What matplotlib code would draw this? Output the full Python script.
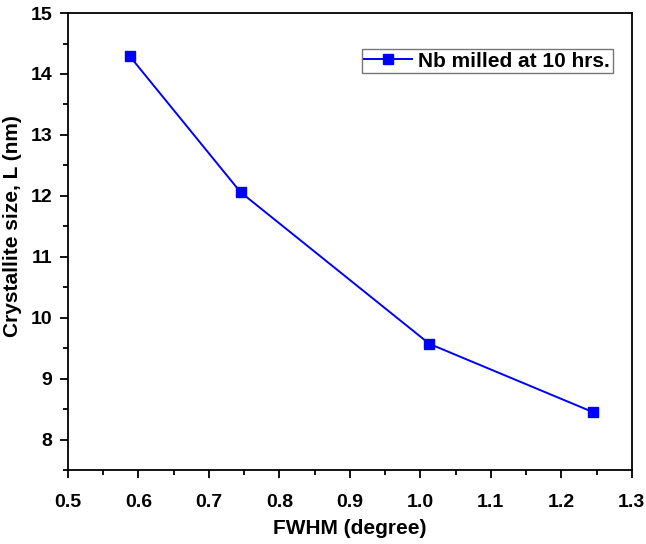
import matplotlib
matplotlib.use("Agg")
import matplotlib.pyplot as plt
from matplotlib.ticker import MultipleLocator, FormatStrFormatter

plt.rcParams['font.family'] = ['Liberation Sans', 'DejaVu Sans']
plt.rcParams['font.weight'] = 'bold'

fwhm = [0.588, 0.745, 1.013, 1.245]
size_nm = [14.29, 12.06, 9.57, 8.45]
label = "Nb milled at 10 hrs."

fig = plt.figure(figsize=(6.46, 5.44), dpi=100)
ax = fig.add_axes([0.105, 0.136, 0.873, 0.840])

ax.plot(fwhm, size_nm, color="#0000ff", lw=1.4, marker="s", ms=7.5,
        label=label)

ax.set_xlim(0.5, 1.3)
ax.set_ylim(7.5, 15)
ax.xaxis.set_major_locator(MultipleLocator(0.1))
ax.xaxis.set_minor_locator(MultipleLocator(0.05))
ax.yaxis.set_major_locator(MultipleLocator(1))
ax.yaxis.set_minor_locator(MultipleLocator(0.5))
ax.xaxis.set_major_formatter(FormatStrFormatter('%.1f'))

ax.tick_params(which="major", direction="out", length=6, width=1.3,
               labelsize=14, pad=5)
ax.tick_params(axis="x", which="major", pad=11)
ax.tick_params(which="minor", direction="out", length=3.5, width=1.3)
for s in ax.spines.values():
    s.set_linewidth(1.3)

ax.set_xlabel("FWHM (degree)", fontsize=15, fontweight="bold", labelpad=6)
ax.set_ylabel("Crystallite size, L (nm)", fontsize=15, fontweight="bold")
ax.yaxis.set_label_coords(-0.082, 0.534)

leg = ax.legend(loc="upper right", bbox_to_anchor=(0.966, 0.921),
                fontsize=15, frameon=True, fancybox=False,
                handlelength=2.3, handletextpad=0.3, borderpad=0.12,
                borderaxespad=0)
leg.get_frame().set_edgecolor("#555555")
leg.get_frame().set_linewidth(1.0)

fig.savefig("out.png", dpi=100)
